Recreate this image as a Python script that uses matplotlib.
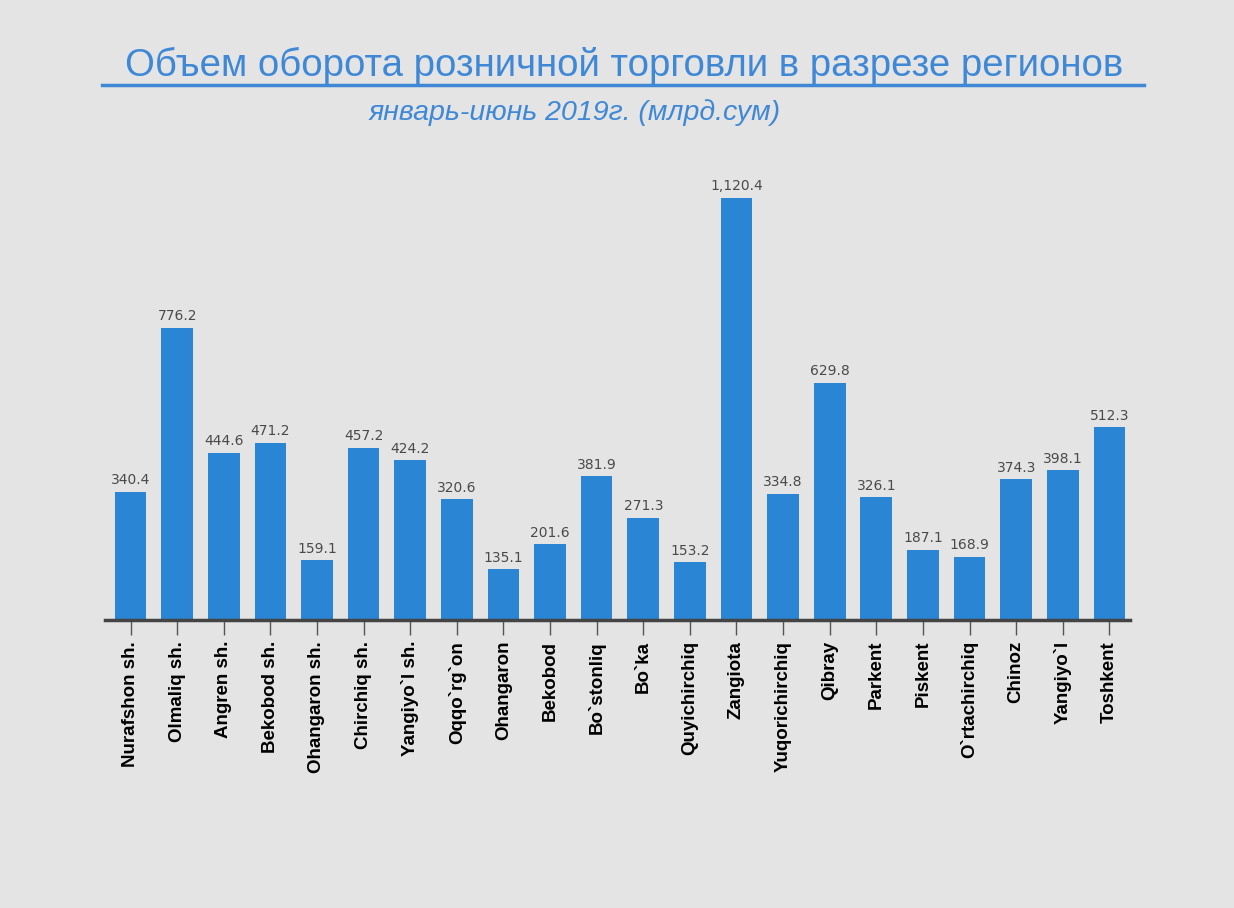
import matplotlib
matplotlib.use('Agg')

import matplotlib.pyplot as plt
import matplotlib.lines as mlines
import numpy as np

# -----------------------------
# DATA
# -----------------------------
regions = [
    "Nurafshon sh.", "Olmaliq sh.", "Angren sh.", "Bekobod sh.", "Ohangaron sh.",
    "Chirchiq sh.", "Yangiyo`l sh.", "Oqqo`rg`on", "Ohangaron", "Bekobod",
    "Bo`stonliq", "Bo`ka", "Quyichirchiq", "Zangiota", "Yuqorichirchiq",
    "Qibray", "Parkent", "Piskent", "O`rtachirchiq", "Chinoz", "Yangiyo`l",
    "Toshkent",
]
values = [340.4, 776.2, 444.6, 471.2, 159.1, 457.2, 424.2, 320.6, 135.1, 201.6,
          381.9, 271.3, 153.2, 1120.4, 334.8, 629.8, 326.1, 187.1, 168.9, 374.3,
          398.1, 512.3]

title = "Объем оборота розничной торговли в разрезе регионов"
subtitle = "январь-июнь 2019г. (млрд.сум)"

# -----------------------------
# STYLE
# -----------------------------
bg = '#e4e4e4'
bar_col = '#2a85d4'
title_col = '#3f88d6'

fig = plt.figure(figsize=(12.34, 9.08), dpi=100, facecolor=bg)
ax = fig.add_axes([0.085, 0.317, 0.831, 0.496])
ax.set_facecolor(bg)

x = np.arange(len(values))
ax.bar(x, values, width=0.68, color=bar_col)

for xi, v in zip(x, values):
    ax.text(xi, v + 12, f'{v:,.1f}', ha='center', va='bottom',
            fontsize=10, color='#4a4a4a', family='DejaVu Sans')

ax.set_xlim(-0.55, 21.45)
ax.set_ylim(0, 1195)
ax.set_yticks([])

for s in ['top', 'right', 'left']:
    ax.spines[s].set_visible(False)
ax.spines['bottom'].set_color('#444444')
ax.spines['bottom'].set_linewidth(2.5)

ax.set_xticks(x)
ax.set_xticklabels(regions, rotation=90, fontsize=13.5, fontweight='bold',
                   family='Liberation Sans', color='black')
ax.tick_params(axis='x', length=11, width=1, color='#555555', pad=4)

# -----------------------------
# TITLES
# -----------------------------
fig.text(0.506, 0.916, title, ha='center', va='baseline', fontsize=27.6,
         color=title_col, family=['Liberation Sans', 'DejaVu Sans'])
fig.add_artist(mlines.Line2D([0.083, 0.927], [0.906, 0.906],
                             transform=fig.transFigure, color=title_col, lw=2.5))
fig.text(0.466, 0.868, subtitle, ha='center', va='baseline', fontsize=20.5,
         color=title_col, style='italic', family=['Liberation Sans', 'DejaVu Sans'])

plt.savefig('out.png', dpi=100, facecolor=bg)
plt.close()
